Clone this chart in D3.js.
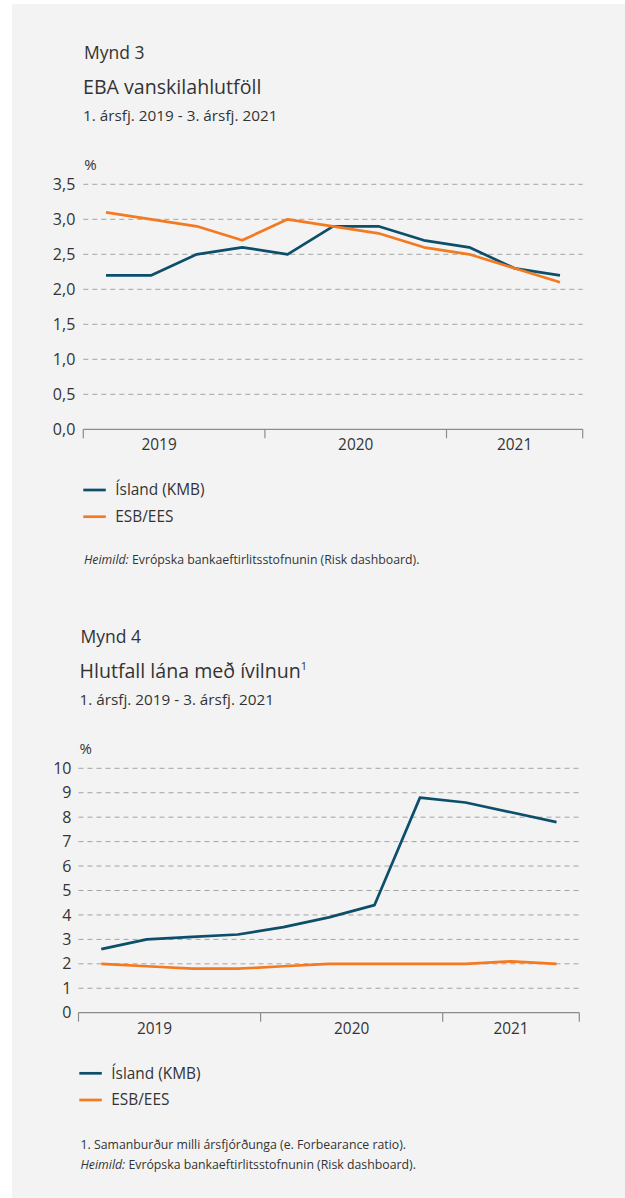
<!DOCTYPE html>
<html>
<head>
<meta charset="utf-8">
<script src="https://cdn.jsdelivr.net/npm/d3@7"></script>
<style>
  html, body { margin: 0; padding: 0; background: #fff; }
  svg { display: block; font-family: 'Open Sans', sans-serif; }
</style>
</head>
<body>
<svg></svg>
<script>
const quarters = ['2019Q1', '2019Q2', '2019Q3', '2019Q4', '2020Q1', '2020Q2', '2020Q3', '2020Q4', '2021Q1', '2021Q2', '2021Q3'];
const years = ['2019', '2020', '2021'];

// Mynd 3 - EBA vanskilahlutföll
const npIsland = [2.2, 2.2, 2.5, 2.6, 2.5, 2.9, 2.9, 2.7, 2.6, 2.3, 2.2];
const npEU = [3.1, 3.0, 2.9, 2.7, 3.0, 2.9, 2.8, 2.6, 2.5, 2.3, 2.1];
const npTicks = [0, 0.5, 1, 1.5, 2, 2.5, 3, 3.5];

// Mynd 4 - Hlutfall lána með ívilnun
const fbIsland = [2.6, 3.0, 3.1, 3.2, 3.5, 3.9, 4.4, 8.8, 8.6, 8.2, 7.8];
const fbEU = [2.0, 1.9, 1.8, 1.8, 1.9, 2.0, 2.0, 2.0, 2.0, 2.1, 2.0];
const fbTicks = [0, 1, 2, 3, 4, 5, 6, 7, 8, 9, 10];

const seriesNames = ['Ísland (KMB)', 'ESB/EES'];
const colors = ['#0d4f6b', '#f37a21'];
const ink = '#333';

const [width, height] = [625, 1198];
const svg = d3.select('svg').attr('width', width).attr('height', height);

svg.append('rect')
  .attr('x', 12).attr('y', 4)
  .attr('width', width - 12).attr('height', height - 4)
  .attr('fill', '#f3f3f3');

function chart(o) {
  const g = svg.append('g');
  const tx = o.textX;

  g.append('text').attr('x', tx + 1).attr('y', o.top).attr('font-size', 17.5).attr('fill', ink).text(o.mynd);
  const t = g.append('text').attr('x', tx).attr('y', o.top + 34.7).attr('font-size', 19.6).attr('fill', ink).text(o.title);
  if (o.sup) t.append('tspan').attr('font-size', 11).attr('dy', -8).text(o.sup);
  g.append('text').attr('x', tx).attr('y', o.top + 61.5).attr('font-size', 15.3).attr('fill', ink).text(o.subtitle);

  const x = d3.scaleBand().domain(quarters).range([o.left, o.right]);
  const y = d3.scaleLinear().domain(o.domain).range([o.bottom, o.topY]);

  // grid
  g.append('g').selectAll('line')
    .data(o.ticks.slice(1))
    .join('line')
    .attr('x1', o.left).attr('x2', o.right)
    .attr('y1', d => y(d)).attr('y2', d => y(d))
    .attr('stroke', '#a3a3a3').attr('stroke-dasharray', '5,4').attr('stroke-width', 1);

  // y labels
  g.append('g').selectAll('text')
    .data(o.ticks)
    .join('text')
    .attr('x', o.left - o.labelGap).attr('y', d => y(d)).attr('dy', '0.35em')
    .attr('text-anchor', 'end').attr('font-size', 16).attr('fill', ink)
    .text(d => o.fmt(d));
  g.append('text').attr('x', o.left + 1).attr('y', o.topY - 14.5).attr('font-size', 15).attr('fill', ink).text('%');

  // x axis
  g.append('line').attr('x1', o.left).attr('x2', o.right)
    .attr('y1', y(0)).attr('y2', y(0)).attr('stroke', '#8c8c8c').attr('stroke-width', 1.2);
  const bounds = [quarters[0], '2020Q1', '2021Q1'].map(q => x(q)).concat([o.right]);
  g.append('g').selectAll('line')
    .data(bounds)
    .join('line')
    .attr('x1', d => d).attr('x2', d => d)
    .attr('y1', y(0)).attr('y2', y(0) + 9)
    .attr('stroke', '#8c8c8c').attr('stroke-width', 1.2);
  g.append('g').selectAll('text')
    .data(years)
    .join('text')
    .attr('x', (d, i) => (bounds[i] + bounds[i + 1]) / 2 - (i === 0 ? 15 : 0))
    .attr('y', y(0) + 21)
    .attr('text-anchor', 'middle').attr('font-size', 15.4).attr('fill', ink)
    .text(d => d);

  const line = d3.line()
    .x((d, i) => x(quarters[i]) + x.bandwidth() / 2)
    .y(d => y(d));
  [o.s1, o.s2].forEach((s, i) => {
    g.append('path').datum(s)
      .attr('d', line)
      .attr('fill', 'none').attr('stroke', colors[i]).attr('stroke-width', 2.7)
      .attr('stroke-linejoin', 'round');
  });

  // legend
  seriesNames.forEach((n, i) => {
    const ly = o.legendY + i * 26.7;
    g.append('line').attr('x1', o.legendX).attr('x2', o.legendX + 22.5)
      .attr('y1', ly).attr('y2', ly).attr('stroke', colors[i]).attr('stroke-width', 2.7);
    g.append('text').attr('x', o.legendX + 32).attr('y', ly).attr('dy', '0.35em')
      .attr('font-size', 15.4).attr('fill', ink).text(n);
  });

  let fy = o.footY;
  if (o.note) {
    g.append('text').attr('x', tx + 1).attr('y', fy).attr('font-size', 12.3).attr('fill', ink).text(o.note);
    fy += 19.7;
  }
  const src = g.append('text').attr('x', tx + 1).attr('y', fy).attr('font-size', 12.3).attr('fill', ink);
  src.append('tspan').attr('font-style', 'italic').text('Heimild:');
  src.append('tspan').text(' Evrópska bankaeftirlitsstofnunin (Risk dashboard).');
}

const comma = d => d3.format('.1f')(d).replace('.', ',');

chart({
  mynd: 'Mynd 3', title: 'EBA vanskilahlutföll', subtitle: '1. ársfj. 2019 - 3. ársfj. 2021',
  top: 59, textX: 83,
  left: 83.3, right: 582.7, bottom: 429.3, topY: 184.3, labelGap: 8,
  domain: [0, 3.5], ticks: npTicks, fmt: comma,
  s1: npIsland, s2: npEU,
  legendX: 83.3, legendY: 490, footY: 564
});

chart({
  mynd: 'Mynd 4', title: 'Hlutfall lána með ívilnun', sup: '1', subtitle: '1. ársfj. 2019 - 3. ársfj. 2021',
  top: 643.3, textX: 79.5,
  left: 78.5, right: 579.3, bottom: 1012.7, topY: 768.3, labelGap: 7,
  domain: [0, 10], ticks: fbTicks, fmt: d => d,
  s1: fbIsland, s2: fbEU,
  legendX: 79.3, legendY: 1073.3,
  note: '1. Samanburður milli ársfjórðunga (e. Forbearance ratio).', footY: 1149.3
});
</script>
</body>
</html>
